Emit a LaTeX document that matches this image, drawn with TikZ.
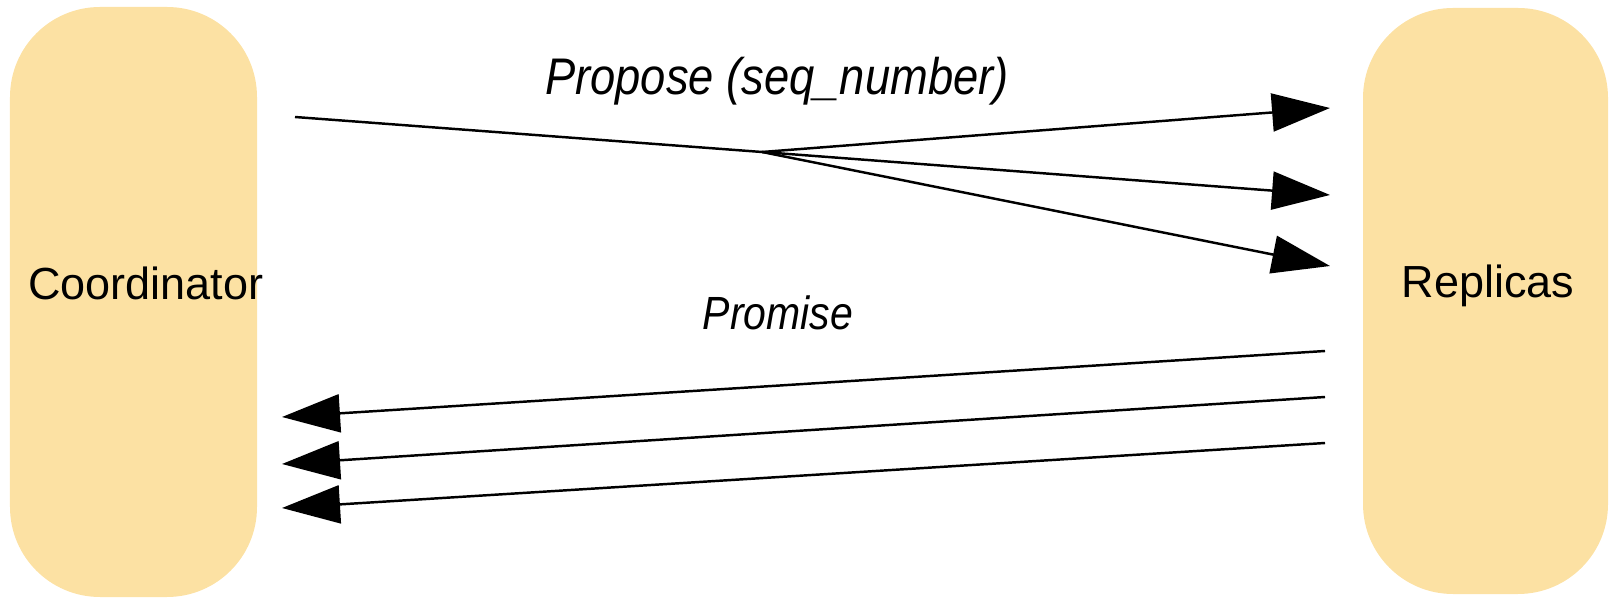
\documentclass[tikz,border=0pt]{standalone}
\usepackage{fontspec}
\setmainfont{Liberation Sans}
\newfontfamily\msgfont[FakeStretch=0.88]{Liberation Sans}
\usepackage{xcolor}
\definecolor{sand}{HTML}{FCE1A3}
\definecolor{ink}{HTML}{000000}
\usepackage{tikz}
\usetikzlibrary{arrows.meta, positioning}

\begin{document}
\begin{tikzpicture}[
    pill/.style={draw=none, fill=sand, rounded corners=1.8cm, inner sep=0pt},
    role/.style={anchor=base, font=\fontsize{25.6}{30}\selectfont},
    msg/.style={anchor=base, font=\msgfont\itshape\fontsize{26.5}{31}\selectfont},
    wire/.style={draw=ink, line width=1.4pt},
    send/.style={wire, -{Triangle[length=1.16cm, width=0.76cm]}}
  ]
  \useasboundingbox (0,0) rectangle (32.28,11.98);

  % Coordinator and replica group
  \node[pill, minimum width=4.94cm, minimum height=11.8cm] (coord) at (2.67,5.94) {};
  \node[pill, minimum width=4.9cm, minimum height=11.72cm] (repl) at (29.71,5.96) {};
  \node[role] (coordname) at (2.92,5.98) {Coordinator};
  \node[role] (replname) at (29.76,6.02) {Replicas};

  % Phase 1: propose fans out to every replica
  \coordinate (propfrom) at (5.90,9.64);
  \coordinate (fork) at (15.24,8.94);
  \coordinate (propto1) at (26.60,9.82);
  \coordinate (propto2) at (26.60,8.08);
  \coordinate (propto3) at (26.60,6.66);
  \draw[wire] (propfrom) -- (fork);
  \foreach \i in {1,2,3}
    \draw[send] (fork) -- (propto\i);
  \node[msg, font=\msgfont\itshape\fontsize{29.3}{35}\selectfont] (propose) at (15.54,10.08) {Propose (seq\_number)};

  % Phase 1b: promises come back
  \coordinate (promfrom1) at (26.50,4.96);
  \coordinate (promfrom2) at (26.50,4.04);
  \coordinate (promfrom3) at (26.50,3.12);
  \coordinate (promto1) at (5.64,3.64);
  \coordinate (promto2) at (5.64,2.70);
  \coordinate (promto3) at (5.64,1.82);
  \foreach \i in {1,2,3}
    \draw[send] (promfrom\i) -- (promto\i);
  \node[msg] (promise) at (15.56,5.38) {Promise};
\end{tikzpicture}
\end{document}
